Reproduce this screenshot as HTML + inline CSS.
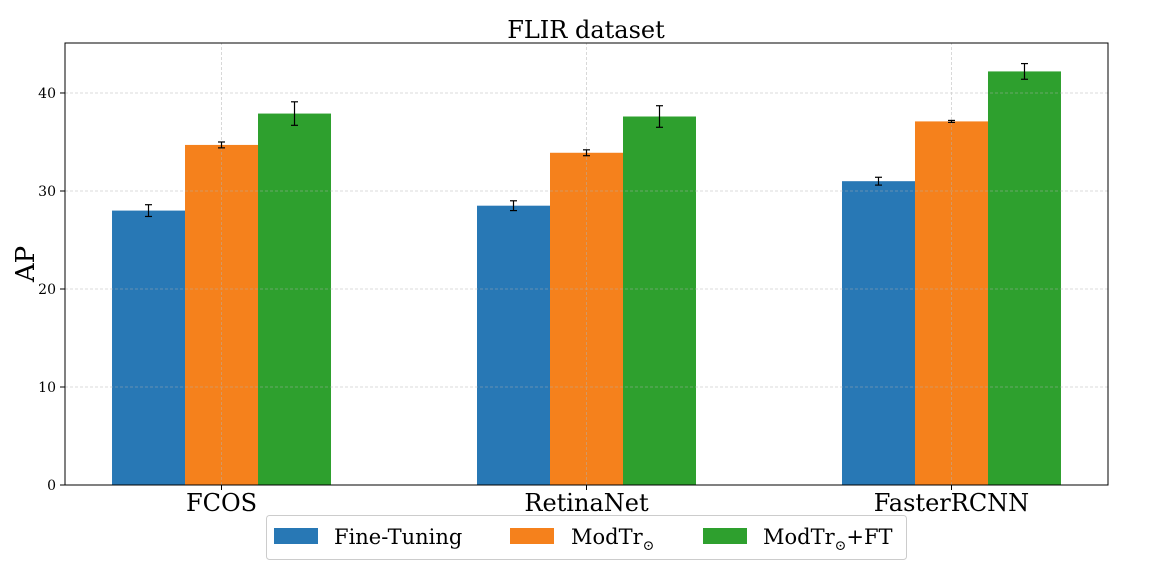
<!DOCTYPE html>
<html><head><meta charset="utf-8"><style>
body{margin:0;background:#fff;}
svg text{font-family:"DejaVu Serif","Liberation Serif",serif;fill:#000;}
</style></head><body>
<svg id="chart" width="1151" height="579">
<text x="586" y="38" font-size="24" text-anchor="middle">FLIR dataset</text>
<g id="bars"></g><g id="grid" opacity="0.6"></g><g id="ticks"></g>
<rect x="65" y="43" width="1043" height="442" fill="none" stroke="#000" stroke-width="1"/>
<text transform="translate(34,264) rotate(-90)" font-size="26" text-anchor="middle">AP</text>
<g>
<rect x="266.5" y="515.5" width="640" height="44" rx="3" fill="#fff" stroke="#ccc"/>
<rect x="274" y="528" width="44" height="16" fill="#2878b5"/>
<text x="334" y="544" font-size="21">Fine-Tuning</text>
<rect x="510" y="528" width="44" height="16" fill="#f5811c"/>
<text x="571" y="544" font-size="21">ModTr<tspan font-size="14" dy="6">⊙</tspan></text>
<rect x="703" y="528" width="44" height="16" fill="#2ea02e"/>
<text x="763" y="544" font-size="21">ModTr<tspan font-size="14" dy="6">⊙</tspan><tspan dy="-6">+FT</tspan></text>
</g>
</svg>
<script>
const categories=["FCOS","RetinaNet","FasterRCNN"];
const seriesNames=["Fine-Tuning","ModTr","ModTr+FT"];
const fineTuning=[28.0,28.5,31.0];
const modTr=[34.7,33.9,37.1];
const modTrFT=[37.9,37.6,42.2];
const fineTuningErr=[0.6,0.5,0.4];
const modTrErr=[0.3,0.3,0.1];
const modTrFTErr=[1.2,1.1,0.8];
const yTicks=[0,10,20,30,40];
const NS="http://www.w3.org/2000/svg";
const colors=["#2878b5","#f5811c","#2ea02e"];
const X0=65,X1=1108,Y0=485,Y1=43;
const xMin=-0.4288,xMax=2.4288,yMin=0,yMax=45.1;
const xs=v=>X0+(v-xMin)/(xMax-xMin)*(X1-X0);
const ys=v=>Y0-(v-yMin)/(yMax-yMin)*(Y0-Y1);
function mk(t,a,p){const e=document.createElementNS(NS,t);for(const k in a)e.setAttribute(k,a[k]);p.appendChild(e);return e;}
const grid=document.getElementById('grid'),bars=document.getElementById('bars'),ticks=document.getElementById('ticks');
yTicks.forEach(t=>{
 const y=ys(t);
 const g=mk('line',{x1:X0,x2:X1,y1:y,y2:y,stroke:'#b0b0b0','stroke-width':0.8,'stroke-dasharray':'3,2'},grid);
 
 
 mk('line',{x1:X0-5,x2:X0,y1:y,y2:y,stroke:'#000'},ticks);
 const tx=mk('text',{x:X0-9,y:y+5,'font-size':14,'text-anchor':'end'},ticks);tx.textContent=t;
 
 
});
const series=[fineTuning,modTr,modTrFT],errs=[fineTuningErr,modTrErr,modTrFTErr];
const bw=0.2;
categories.forEach((c,i)=>{
 const gx=xs(i);
 const g=mk('line',{x1:gx,x2:gx,y1:Y0,y2:Y1,stroke:'#b0b0b0','stroke-width':0.8,'stroke-dasharray':'3,2'},grid);
 
 
 mk('line',{x1:gx,x2:gx,y1:Y0,y2:Y0+5,stroke:'#000'},ticks);
 const tx=mk('text',{x:gx,y:Y0+26,'font-size':24,'text-anchor':'middle'},ticks);tx.textContent=c;
 
 
 series.forEach((s,j)=>{
  const xl=xs(i+(j-1.5)*bw),xr=xs(i+(j-0.5)*bw),yt=ys(s[i]);
  const r=mk('rect',{x:xl,y:yt,width:xr-xl,height:Y0-yt,fill:colors[j]},bars);
  
  
  const cx=(xl+xr)/2,e=errs[j][i],ya=ys(s[i]+e),yb=ys(s[i]-e);
  const eg=mk('g',{stroke:'#000','stroke-width':1.2},ticks);
  
  
  mk('line',{x1:cx,x2:cx,y1:ya,y2:yb},eg);
  mk('line',{x1:cx-3.5,x2:cx+3.5,y1:ya,y2:ya},eg);
  mk('line',{x1:cx-3.5,x2:cx+3.5,y1:yb,y2:yb},eg);
 });
});
</script>
</body></html>
